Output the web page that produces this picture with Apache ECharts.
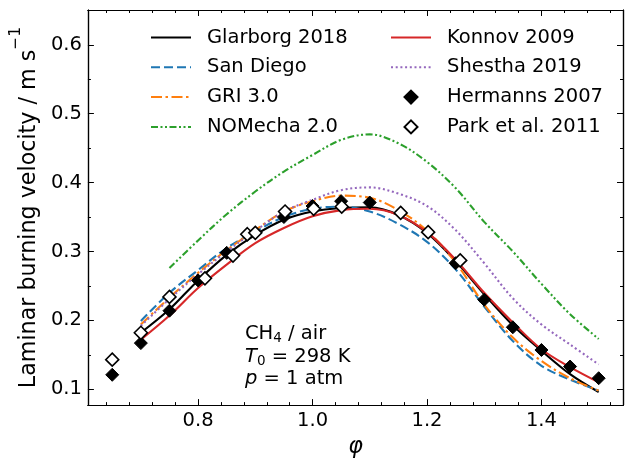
<!DOCTYPE html>
<html>
<head>
<meta charset="utf-8">
<script src="https://cdn.jsdelivr.net/npm/echarts@6/dist/echarts.min.js"></script>
<style>
  html, body { margin: 0; padding: 0; background: #fff; }
  #chart { width: 628px; height: 463px; }
</style>
</head>
<body>
<div id="chart"></div>
<script>
// equivalence ratio grid of the model curves
const phi = [0.70, 0.75, 0.80, 0.85, 0.90, 0.95, 1.00, 1.05, 1.10, 1.15, 1.20, 1.25, 1.30, 1.35, 1.40, 1.45, 1.50];
const phiNomecha = [0.75, 0.80, 0.85, 0.90, 0.95, 1.00, 1.05, 1.10, 1.15, 1.20, 1.25, 1.30, 1.35, 1.40, 1.45, 1.50];

// laminar burning velocity, m/s
const glarborg = [0.182, 0.216, 0.258, 0.295, 0.324, 0.346, 0.358, 0.363, 0.364, 0.353, 0.327, 0.286, 0.238, 0.193, 0.156, 0.122, 0.096];
const sanDiego = [0.199, 0.240, 0.273, 0.305, 0.329, 0.350, 0.362, 0.365, 0.358, 0.340, 0.314, 0.274, 0.220, 0.170, 0.134, 0.114, 0.098];
const gri = [0.194, 0.233, 0.269, 0.302, 0.331, 0.358, 0.373, 0.381, 0.378, 0.360, 0.330, 0.284, 0.223, 0.175, 0.141, 0.116, 0.098];
const nomecha = [0.276, 0.316, 0.354, 0.387, 0.416, 0.440, 0.462, 0.470, 0.457, 0.430, 0.392, 0.343, 0.300, 0.253, 0.209, 0.173];
const konnov = [0.172, 0.207, 0.247, 0.281, 0.312, 0.334, 0.351, 0.360, 0.362, 0.353, 0.328, 0.288, 0.240, 0.197, 0.158, 0.132, 0.110];
const shestha = [0.192, 0.231, 0.267, 0.300, 0.330, 0.358, 0.375, 0.389, 0.393, 0.384, 0.366, 0.331, 0.283, 0.232, 0.194, 0.165, 0.136];

// measurements
const phiHermanns = [0.65, 0.70, 0.75, 0.80, 0.85, 0.95, 1.00, 1.05, 1.10, 1.25, 1.30, 1.35, 1.40, 1.45, 1.50];
const hermanns = [0.121, 0.167, 0.214, 0.258, 0.298, 0.350, 0.366, 0.373, 0.371, 0.283, 0.230, 0.190, 0.157, 0.133, 0.116];
const phiPark = [0.65, 0.70, 0.75, 0.812, 0.861, 0.886, 0.90, 0.952, 1.002, 1.051, 1.154, 1.202, 1.258];
const park = [0.143, 0.182, 0.234, 0.261, 0.294, 0.325, 0.327, 0.358, 0.362, 0.365, 0.356, 0.328, 0.287];

// ticks
const xMajor = [0.8, 1.0, 1.2, 1.4];
const xMinor = [0.64, 0.68, 0.72, 0.76, 0.84, 0.88, 0.92, 0.96, 1.04, 1.08, 1.12, 1.16, 1.24, 1.28, 1.32, 1.36, 1.44, 1.48, 1.52];
const yMajor = [0.1, 0.2, 0.3, 0.4, 0.5, 0.6];
const yMinor = [0.15, 0.25, 0.35, 0.45, 0.55];

const FONT = "DejaVu Sans";
const FS = 19.5;       // tick labels, legend, note
const FS_LABEL = 22.2; // axis titles
const xMin = 0.6075, xMax = 1.5425;
const yMin = 0.077, yMax = 0.6505;

const chart = echarts.init(document.getElementById("chart"), null, { renderer: "canvas" });

const pairs = (xs, ys) => xs.map((x, i) => [x, ys[i]]);

function makeAxis(pos, ticks, len, labels, min, max) {
    return {
        type: "value", position: pos, min, max,
        axisLine: { show: true, onZero: false, lineStyle: { color: "#000", width: 1.2 } },
        axisTick: { show: true, inside: true, length: len, customValues: ticks, lineStyle: { color: "#000", width: 1 } },
        axisLabel: labels ? {
            show: true, customValues: ticks, margin: 6, color: "#000",
            fontFamily: FONT, fontSize: FS, formatter: (v) => v.toFixed(1),
        } : { show: false },
        splitLine: { show: false },
    };
}

const xAxes = [
    makeAxis("bottom", xMajor, 6, true, xMin, xMax),
    makeAxis("bottom", xMinor, 3, false, xMin, xMax),
    makeAxis("top", xMajor, 6, false, xMin, xMax),
    makeAxis("top", xMinor, 3, false, xMin, xMax),
];
xAxes[0].name = "φ";
xAxes[0].nameLocation = "middle";
xAxes[0].nameGap = 28;
xAxes[0].nameTextStyle = { fontFamily: FONT, fontSize: FS_LABEL, fontStyle: "italic", color: "#000" };

const yAxes = [
    makeAxis("left", yMajor, 6, true, yMin, yMax),
    makeAxis("left", yMinor, 3, false, yMin, yMax),
    makeAxis("right", yMajor, 6, false, yMin, yMax),
    makeAxis("right", yMinor, 3, false, yMin, yMax),
];
yAxes[0].name = "{a|Laminar burning velocity / m s}{sup|−1}";
yAxes[0].nameLocation = "middle";
yAxes[0].nameGap = 36;
yAxes[0].nameRotate = 90;
yAxes[0].nameTextStyle = {
    color: "#000",
    rich: {
        a: { fontFamily: FONT, fontSize: FS_LABEL, lineHeight: 32, verticalAlign: "bottom", color: "#000" },
        sup: { fontFamily: FONT, fontSize: 15.5, lineHeight: 32, verticalAlign: "top", color: "#000" },
    },
};

function lineSeries(name, xs, ys, color, dash) {
    return {
        name, type: "line", data: pairs(xs, ys),
        xAxisIndex: 0, yAxisIndex: 0,
        smooth: 0.35, symbol: "none",
        lineStyle: { color, width: 2.1, type: dash },
        itemStyle: { color },
        z: 2,
    };
}

const legendText = {
    fontFamily: FONT, fontSize: FS, color: "#000", lineHeight: 20,
    padding: [0, 0, 0, 11],
};
const noMarker = (name) => ({ name, itemStyle: { opacity: 0 } });
const legendTop = 27.5;
const rowStep = 29.8;

const options = {
    animation: false,
    backgroundColor: "#fff",
    grid: { left: 82, right: 5, top: 10, bottom: 55, containLabel: false },
    xAxis: xAxes,
    yAxis: yAxes,
    legend: [
        {
            data: ["Glarborg 2018", "San Diego", "GRI 3.0", "NOMecha 2.0"].map(noMarker),
            orient: "vertical", left: 150, top: legendTop,
            itemWidth: 40, itemHeight: 13, itemGap: rowStep - 20,
            textStyle: legendText, padding: 0,
        },
        {
            data: ["Konnov 2009", "Shestha 2019"].map(noMarker),
            orient: "vertical", left: 390, top: legendTop,
            itemWidth: 40, itemHeight: 13, itemGap: rowStep - 20,
            textStyle: legendText, padding: 0,
        },
        {
            data: ["Hermanns 2007", "Park et al. 2011"],
            orient: "vertical", left: 403.5, top: legendTop + 2 * rowStep,
            itemWidth: 13, itemHeight: 13, itemGap: rowStep - 20,
            textStyle: Object.assign({}, legendText, { padding: [0, 0, 0, 24.5] }), padding: 0,
        },
    ],
    graphic: [
        {
            type: "text", left: 245, top: 323,
            style: {
                text: "CH{sub|4} / air\n{i|T}{sub|0} = 298 K\n{i|p} = 1 atm",
                fontFamily: FONT, fontSize: FS, lineHeight: 22.5, fill: "#000",
                rich: {
                    sub: { fontFamily: FONT, fontSize: 13.5, lineHeight: 15, verticalAlign: "bottom", fill: "#000" },
                    i: { fontFamily: FONT, fontSize: FS, fontStyle: "italic", lineHeight: 22.5, fill: "#000" },
                },
            },
        },
    ],
    series: [
        lineSeries("Glarborg 2018", phi, glarborg, "#000000", "solid"),
        lineSeries("San Diego", phi, sanDiego, "#1f77b4", [9, 4]),
        lineSeries("GRI 3.0", phi, gri, "#ff7f0e", [11, 3.5, 2.5, 3.5]),
        lineSeries("NOMecha 2.0", phiNomecha, nomecha, "#2ca02c", [7, 2.5, 2, 2.5, 2, 2.5]),
        lineSeries("Konnov 2009", phi, konnov, "#d62728", "solid"),
        lineSeries("Shestha 2019", phi, shestha, "#9467bd", [2, 2.7]),
        {
            name: "Hermanns 2007", type: "scatter", data: pairs(phiHermanns, hermanns),
            xAxisIndex: 0, yAxisIndex: 0,
            symbol: "diamond", symbolSize: 13,
            itemStyle: { color: "#000", borderColor: "#000", borderWidth: 1, opacity: 1 },
            z: 5,
        },
        {
            name: "Park et al. 2011", type: "scatter", data: pairs(phiPark, park),
            xAxisIndex: 0, yAxisIndex: 0,
            symbol: "diamond", symbolSize: 13,
            itemStyle: { color: "#fff", borderColor: "#000", borderWidth: 1.6, opacity: 1 },
            z: 6,
        },
    ],
};

chart.setOption(options, true);
window.addEventListener("resize", () => chart.resize());
</script>
</body>
</html>
